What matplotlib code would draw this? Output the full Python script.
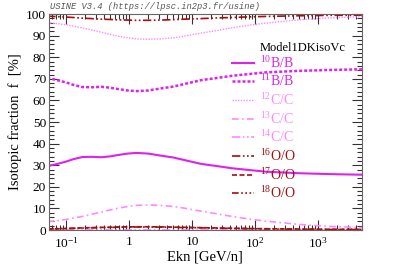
import matplotlib.pyplot as plt
import numpy as np

plt.rcParams['font.family'] = ['Liberation Serif', 'DejaVu Serif']
plt.rcParams['mathtext.fontset'] = 'custom'
plt.rcParams['mathtext.rm'] = 'Liberation Serif'
plt.rcParams['mathtext.it'] = 'Liberation Serif:italic'

# kinetic energy per nucleon [GeV/n]
ekn = [0.05, 0.07, 0.1, 0.13, 0.18, 0.25, 0.37, 0.5, 0.69, 0.95, 1.3, 2, 3.1,
       5, 7.3, 14, 25, 43, 80, 150, 500, 1500, 5000]

b10 = [29.6, 30.5, 31.7, 32.8, 33.8, 33.9, 33.7, 34.1, 34.8, 35.4, 35.7, 35.4,
       34.5, 33.6, 32.5, 30.6, 29.6, 28.6, 27.8, 27.0, 26.3, 25.9, 25.6]
b11 = [100 - v for v in b10]

c12 = [96.0, 95.6, 95.0, 94.4, 93.6, 92.7, 91.5, 90.6, 89.7, 89.0, 88.5, 88.3,
       88.5, 89.0, 89.7, 91.2, 92.4, 93.6, 94.8, 95.8, 97.3, 98.2, 98.8]
c13 = [3.9, 4.3, 4.9, 5.5, 6.3, 7.2, 8.4, 9.3, 10.2, 10.9, 11.4, 11.6, 11.4,
       10.9, 10.2, 8.7, 7.5, 6.3, 5.1, 4.1, 2.6, 1.7, 1.1]
c14 = [0.1] * len(ekn)

o16 = [99.0, 98.8, 98.6, 98.4, 98.1, 97.9, 97.6, 97.5, 97.3, 97.2, 97.1, 97.1,
       97.2, 97.4, 97.6, 97.9, 98.2, 98.4, 98.7, 98.9, 99.2, 99.4, 99.5]
o17 = [0.5, 0.55, 0.7, 0.8, 1.0, 1.1, 1.2, 1.3, 1.4, 1.45, 1.5, 1.5, 1.45,
       1.35, 1.25, 1.1, 0.95, 0.85, 0.7, 0.6, 0.45, 0.35, 0.3]
o18 = [100 - a - b for a, b in zip(o16, o17)]

magenta = '#dd22ee'
pink = '#ff88ff'
darkred = '#a80c0c'

series = [
    (b10, r'$^{10}$B/B', magenta, '-', 1.5),
    (b11, r'$^{11}$B/B', magenta, (0, (1.2, 0.8)), 1.8),
    (c12, r'$^{12}$C/C', pink, (0, (1, 1)), 1.0),
    (c13, r'$^{13}$C/C', pink, (0, (4, 2, 1, 2)), 1.2),
    (c14, r'$^{14}$C/C', pink, (0, (5, 1.5, 1, 1.5, 1, 1.5)), 1.2),
    (o16, r'$^{16}$O/O', darkred, (0, (5, 1.5, 1, 1.5, 1, 1.5)), 1.2),
    (o17, r'$^{17}$O/O', darkred, (0, (3, 1.5)), 1.2),
    (o18, r'$^{18}$O/O', darkred, (0, (4, 1.5, 1, 1.5, 1, 1.5, 1, 1.5)), 1.2),
]

fig = plt.figure(figsize=(4.07, 2.65), dpi=100)
ax = fig.add_axes([0.120, 0.132, 0.769, 0.815])

for y, lab, col, ls, lw in series:
    ax.plot(ekn, y, color=col, ls=ls, lw=lw, label=lab)

ax.set_xscale('log')
ax.set_xlim(0.053, 5000)
ax.set_ylim(0, 100)
ax.set_yticks(np.arange(0, 101, 10))
ax.set_yticks(np.arange(0, 101, 2), minor=True)
ax.set_xticks([0.1, 1, 10, 100, 1000])
ax.set_xticklabels([r'$10^{-1}$', '1', '10', r'$10^{2}$', r'$10^{3}$'])
ax.tick_params(which='both', direction='in', top=True, right=True,
               labelsize=9.6, colors='#333333', labelcolor='black')
ax.tick_params(axis='y', pad=2)
ax.tick_params(axis='x', pad=4)
ax.tick_params(which='major', length=7, width=0.8)
ax.tick_params(which='minor', length=3.5, width=0.8)
for s in ax.spines.values():
    s.set_color('#666666')

ax.set_xlabel('Ekn [GeV/n]', fontsize=10.5, labelpad=0)
ax.set_ylabel('Isotopic fraction  f  [%]', fontsize=10.5, labelpad=3)

ax.text(0.674, 0.845, 'Model1DKisoVc', transform=ax.transAxes, fontsize=9,
        ha='left', va='center')
leg = ax.legend(loc='upper left', bbox_to_anchor=(0.585, 0.812), frameon=False,
                fontsize=10, handlelength=1.6, handletextpad=0.4,
                labelspacing=0.2, borderpad=0, borderaxespad=0,
                labelcolor='linecolor')

fig.text(0.122, 0.975, 'USINE V3.4 (https://lpsc.in2p3.fr/usine)',
         family='Liberation Mono', style='italic', fontsize=6.3,
         color='#555555', ha='left', va='center')

fig.savefig('out.png', dpi=100)
